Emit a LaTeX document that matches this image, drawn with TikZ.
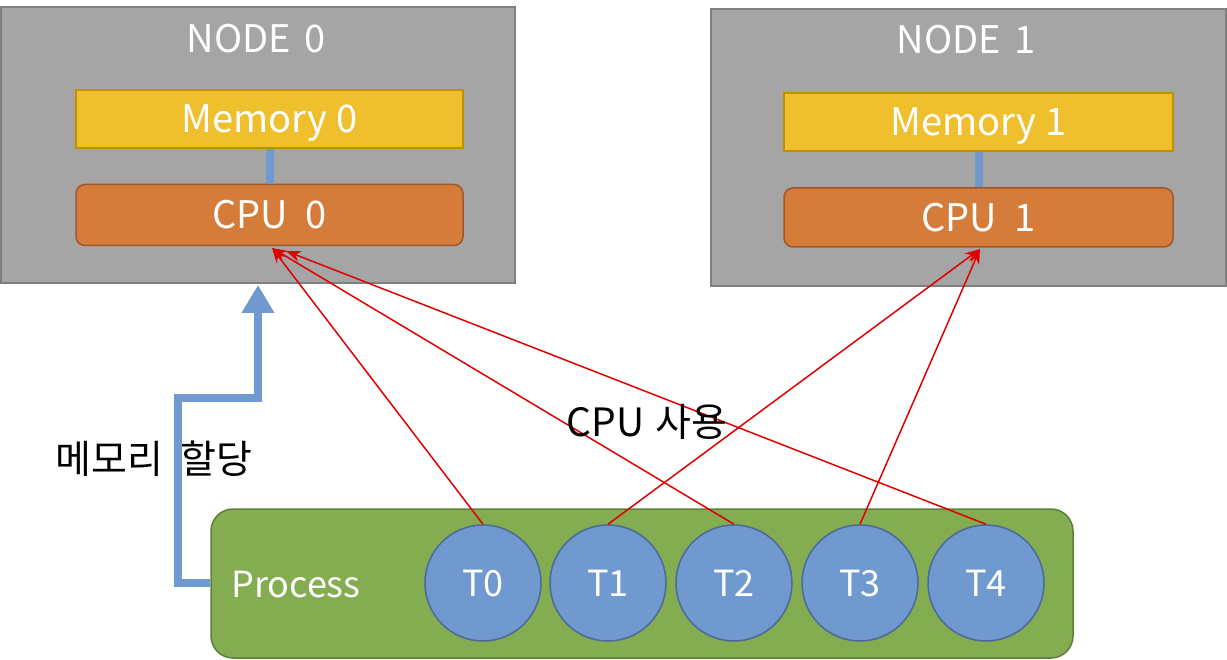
\documentclass[tikz,border=0pt]{standalone}
\usepackage{fontspec}
\setmainfont{Noto Sans CJK KR}
\usetikzlibrary{arrows.meta}
\definecolor{nodegray}{HTML}{A5A5A5}
\definecolor{nodeborder}{HTML}{7F7F7F}
\definecolor{memfill}{HTML}{F0BF2E}
\definecolor{memborder}{HTML}{BF9000}
\definecolor{cpufill}{HTML}{D57C3A}
\definecolor{cpuborder}{HTML}{A0582A}
\definecolor{procfill}{HTML}{84AC50}
\definecolor{procborder}{HTML}{5F7F3A}
\definecolor{thrfill}{HTML}{7099D0}
\definecolor{thrborder}{HTML}{4A6A9A}
\definecolor{linkblue}{HTML}{7099D0}
\definecolor{arrred}{HTML}{E00000}
\tikzset{
  bigfont/.style={font=\fontsize{38}{44}\selectfont, text height=27.8pt, text depth=0pt},
  midfont/.style={font=\fontsize{36}{42}\selectfont, text height=26.4pt, text depth=0pt},
  numabox/.style={draw=nodeborder, line width=2pt, fill=nodegray, inner sep=0pt},
  membox/.style={draw=memborder, line width=1.5pt, fill=memfill, minimum width=387pt, minimum height=58pt, inner sep=0pt, text=white, bigfont},
  cpubox/.style={draw=cpuborder, line width=1.5pt, fill=cpufill, rounded corners=9pt, minimum width=387pt, minimum height=61pt, inner sep=0pt, text=white, bigfont},
  titletext/.style={text=white, bigfont, inner sep=0pt},
  procbox/.style={draw=procborder, line width=1.5pt, fill=procfill, rounded corners=22pt, minimum width=862pt, minimum height=149pt, inner sep=0pt},
  proctext/.style={text=white, midfont, inner sep=0pt},
  thread/.style={circle, draw=thrborder, line width=1.5pt, fill=thrfill, minimum size=116pt, inner sep=0pt, text=white, midfont},
  usearrow/.style={draw=arrred, line width=1.5pt, -{Stealth[length=15pt,width=11pt]}},
  membus/.style={draw=linkblue, line width=8pt},
  allocarrow/.style={draw=linkblue, line width=8pt, -{Triangle[length=28pt,width=31pt]}},
  blacklabel/.style={text=black, font=\fontsize{39}{45}\selectfont, inner sep=0pt},
}
\begin{document}
\begin{tikzpicture}[x=1pt,y=-1pt]
\useasboundingbox (0,0) rectangle (1227,660);
% NUMA nodes
\node[numabox, minimum width=514pt, minimum height=276pt] (node0) at (258,145) {};
\node[numabox, minimum width=515pt, minimum height=277pt] (node1) at (968.5,147.5) {};
\node[titletext] (t0) at (256,39) {NODE\hspace{0.35em}0};
\node[titletext] (t1) at (966,40) {NODE\hspace{0.35em}1};
\node[membox] (mem0) at (269.5,119) {Memory 0};
\node[cpubox] (cpu0) at (269.5,215) {CPU\hspace{0.45em}0};
\node[membox, minimum width=389pt] (mem1) at (978.5,122) {Memory 1};
\node[cpubox, minimum width=389pt, minimum height=59pt] (cpu1) at (978.5,217.5) {CPU\hspace{0.45em}1};
\draw[membus] (mem0.south) -- (cpu0.north);
\draw[membus] (mem1.south) -- (cpu1.north);
% process
\node[procbox] (proc) at (642,583.5) {};
\node[proctext] (ptext) at (296,584) {Process};
\node[thread] (T0) at (483,583) {T0};
\node[thread] (T1) at (608,583) {T1};
\node[thread] (T2) at (734,583) {T2};
\node[thread] (T3) at (860,583) {T3};
\node[thread] (T4) at (986,583) {T4};
% targets
\coordinate (c0a) at (272,248);
\coordinate (c0b) at (286,251);
\coordinate (c1) at (980,249);
\coordinate (bend1) at (178,583);
\coordinate (bend2) at (178,398);
\coordinate (bend3) at (258,398);
\coordinate (atip) at (258,285);
% memory allocation arrow
\draw[allocarrow] (proc.west |- bend1) -- (bend1) -- (bend2) -- (bend3) -- (atip);
% CPU usage arrows
\draw[usearrow] (T0.north) -- (c0a);
\draw[usearrow] (T2.north) -- (c0a);
\draw[usearrow] (T4.north) -- (c0b);
\draw[usearrow] (T1.north) -- (c1);
\draw[usearrow] (T3.north) -- (c1);
% labels
\node[blacklabel] (alloc) at (154,459) {메모리\hspace{0.45em}할당};
\node[blacklabel] (use) at (647,422) {CPU\hspace{0.3em}사용};
\end{tikzpicture}
\end{document}
